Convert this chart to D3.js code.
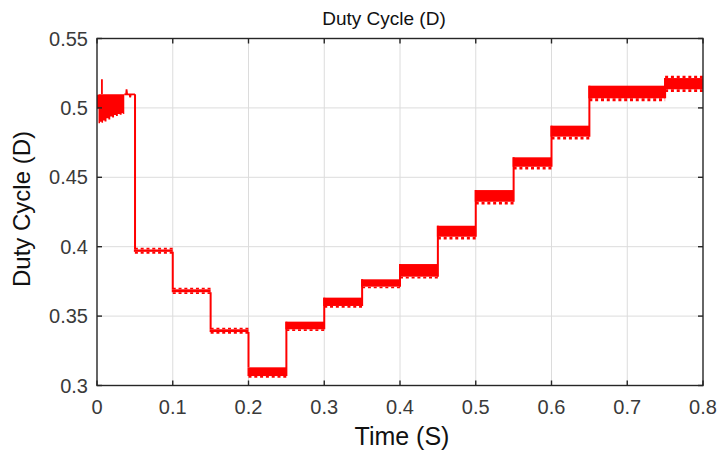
<!DOCTYPE html>
<html>
<head>
<meta charset="utf-8">
<script src="https://cdn.jsdelivr.net/npm/d3@7/dist/d3.min.js"></script>
<style>
  html, body { margin: 0; padding: 0; background: #fff; }
  svg { display: block; font-family: "Liberation Sans", Arial, sans-serif; }
</style>
</head>
<body>
<svg id="chart" width="719" height="450"></svg>
<script>
// Duty cycle of the converter during a staircase of operating points.

// Step segments after the start-up transient (time in s, duty cycle D)
const segStart = [0.05, 0.10, 0.15, 0.20, 0.25, 0.30, 0.35, 0.40, 0.45, 0.50, 0.55, 0.60, 0.65, 0.75];
const segEnd   = [0.10, 0.15, 0.20, 0.25, 0.30, 0.35, 0.40, 0.45, 0.50, 0.55, 0.60, 0.65, 0.75, 0.80];
const segHigh  = [0.3980, 0.3693, 0.3405, 0.3131, 0.3460, 0.3633, 0.3765, 0.3875, 0.4151, 0.4408, 0.4644, 0.4872, 0.5160, 0.5215];
const segLow   = [0.3963, 0.3672, 0.3385, 0.3068, 0.3405, 0.3573, 0.3712, 0.3784, 0.4072, 0.4324, 0.4576, 0.4793, 0.5069, 0.5134];
const segDip   = [0.3950, 0.3659, 0.3372, 0.3055, 0.3393, 0.3561, 0.3700, 0.3770, 0.4052, 0.4304, 0.4557, 0.4773, 0.5048, 0.5114];
const segPeak  = [0.3993, 0.3705, 0.3416, 0.3131, 0.3460, 0.3633, 0.3765, 0.3875, 0.4151, 0.4408, 0.4644, 0.4872, 0.5160, 0.5232];

// Start-up transient: ripple envelope over the first ~36 ms
const initT  = [0.0000, 0.0020, 0.0040, 0.0060, 0.0080, 0.0100, 0.0125, 0.0150, 0.0175, 0.0200, 0.0225, 0.0250, 0.0275, 0.0300, 0.0325, 0.0345, 0.0360];
const initHi = [0.5095, 0.5098, 0.5098, 0.5098, 0.5098, 0.5098, 0.5098, 0.5098, 0.5098, 0.5098, 0.5098, 0.5098, 0.5098, 0.5098, 0.5098, 0.5098, 0.5098];
const initLo = [0.4995, 0.4889, 0.4900, 0.4893, 0.4910, 0.4902, 0.4925, 0.4917, 0.4938, 0.4930, 0.4948, 0.4941, 0.4956, 0.4950, 0.4962, 0.4956, 0.4962];

// Settling tail and the first overshoot spike
const tailT = [0.0360, 0.0385, 0.0390, 0.0398, 0.0405, 0.0430, 0.0438, 0.0446, 0.0502];
const tailD = [0.5098, 0.5098, 0.5134, 0.5098, 0.5098, 0.5098, 0.5076, 0.5098, 0.5098];
const spikeT = [0.0065, 0.0065];
const spikeD = [0.5098, 0.5206];

// Axis ticks
const xTicks = [0, 0.1, 0.2, 0.3, 0.4, 0.5, 0.6, 0.7, 0.8];
const yTicks = [0.3, 0.35, 0.4, 0.45, 0.5, 0.55];
const xTickLabels = ["0", "0.1", "0.2", "0.3", "0.4", "0.5", "0.6", "0.7", "0.8"];
const yTickLabels = ["0.3", "0.35", "0.4", "0.45", "0.5", "0.55"];

const RED = "#ff0000";
const AXIS = "#262626";

const svg = d3.select("#chart");
const pLeft = 97, pRight = 703, pTop = 38.5, pBottom = 385.5;

const x = d3.scaleLinear().domain([0, 0.8]).range([pLeft, pRight]);
const y = d3.scaleLinear().domain([0.3, 0.55]).range([pBottom, pTop]);

// grid
const grid = svg.append("g");
grid.selectAll("line.gx").data(xTicks.slice(1, -1)).join("line")
  .attr("x1", d => x(d)).attr("x2", d => x(d))
  .attr("y1", pTop).attr("y2", pBottom)
  .attr("stroke", "#dcdcdc").attr("stroke-width", 1);
grid.selectAll("line.gy").data(yTicks.slice(1, -1)).join("line")
  .attr("x1", pLeft).attr("x2", pRight)
  .attr("y1", d => y(d)).attr("y2", d => y(d))
  .attr("stroke", "#dcdcdc").attr("stroke-width", 1);

// plot content clipped to the axes box
svg.append("clipPath").attr("id", "plotClip")
  .append("rect").attr("x", pLeft).attr("y", pTop - 1)
  .attr("width", pRight - pLeft).attr("height", pBottom - pTop + 1);
const plot = svg.append("g").attr("clip-path", "url(#plotClip)");

// start-up transient band
const initIdx = d3.range(initT.length);
plot.append("path")
  .datum(initIdx)
  .attr("d", d3.area()
    .x(i => x(initT[i]))
    .y0(i => y(initLo[i]))
    .y1(i => y(initHi[i]))
    .curve(d3.curveStepAfter))
  .attr("fill", RED);

const line = d3.line().x(d => x(d[0])).y(d => y(d[1]));

plot.append("path")
  .datum(tailT.map((t, i) => [t, tailD[i]]))
  .attr("d", line)
  .attr("fill", "none").attr("stroke", RED).attr("stroke-width", 1.8);

plot.append("path")
  .datum(spikeT.map((t, i) => [t, spikeD[i]]))
  .attr("d", line)
  .attr("fill", "none").attr("stroke", RED).attr("stroke-width", 1.8);

// step transitions (vertical edges between consecutive levels)
const edgeData = [[tailT[tailT.length - 1], tailD[tailD.length - 1], segHigh[0]]];
for (let i = 1; i < segStart.length; i++) {
  edgeData.push([segStart[i], segLow[i - 1], segHigh[i]]);
}
plot.selectAll("line.edge").data(edgeData).join("line")
  .attr("x1", d => x(d[0])).attr("x2", d => x(d[0]))
  .attr("y1", d => y(d[1])).attr("y2", d => y(d[2]))
  .attr("stroke", RED).attr("stroke-width", 2);

// ripple bands of each level
const segIdx = d3.range(segStart.length);
plot.selectAll("rect.band").data(segIdx).join("rect")
  .attr("x", i => x(segStart[i]) - 1)
  .attr("width", i => x(segEnd[i]) - x(segStart[i]) + 1)
  .attr("y", i => y(segHigh[i]))
  .attr("height", i => Math.max(2, y(segLow[i]) - y(segHigh[i])))
  .attr("fill", RED);

// downward ripple teeth along the lower edge
plot.selectAll("line.dip").data(segIdx).join("line")
  .attr("x1", i => x(segStart[i]))
  .attr("x2", i => x(segEnd[i]))
  .attr("y1", i => (y(segLow[i]) + y(segDip[i])) / 2)
  .attr("y2", i => (y(segLow[i]) + y(segDip[i])) / 2)
  .attr("stroke", RED)
  .attr("stroke-width", i => y(segDip[i]) - y(segLow[i]))
  .attr("stroke-dasharray", "3,2.8");

// upward ripple teeth along the upper edge
plot.selectAll("line.peak").data(segIdx.filter(i => segPeak[i] > segHigh[i])).join("line")
  .attr("x1", i => x(segStart[i]))
  .attr("x2", i => x(segEnd[i]))
  .attr("y1", i => (y(segHigh[i]) + y(segPeak[i])) / 2)
  .attr("y2", i => (y(segHigh[i]) + y(segPeak[i])) / 2)
  .attr("stroke", RED)
  .attr("stroke-width", i => y(segHigh[i]) - y(segPeak[i]))
  .attr("stroke-dasharray", "3,2.8");

// axes box
const box = svg.append("g");
box.append("rect")
  .attr("x", pLeft).attr("y", pTop)
  .attr("width", pRight - pLeft).attr("height", pBottom - pTop)
  .attr("fill", "none").attr("stroke", AXIS).attr("stroke-width", 1.4);

const tickLen = 5;
box.selectAll("line.xtb").data(xTicks).join("line")
  .attr("x1", d => x(d)).attr("x2", d => x(d))
  .attr("y1", pBottom).attr("y2", pBottom - tickLen)
  .attr("stroke", AXIS).attr("stroke-width", 1.4);
box.selectAll("line.xtt").data(xTicks).join("line")
  .attr("x1", d => x(d)).attr("x2", d => x(d))
  .attr("y1", pTop).attr("y2", pTop + tickLen)
  .attr("stroke", AXIS).attr("stroke-width", 1.4);
box.selectAll("line.ytl").data(yTicks).join("line")
  .attr("x1", pLeft).attr("x2", pLeft + tickLen)
  .attr("y1", d => y(d)).attr("y2", d => y(d))
  .attr("stroke", AXIS).attr("stroke-width", 1.4);
box.selectAll("line.ytr").data(yTicks).join("line")
  .attr("x1", pRight).attr("x2", pRight - tickLen)
  .attr("y1", d => y(d)).attr("y2", d => y(d))
  .attr("stroke", AXIS).attr("stroke-width", 1.4);

// tick labels
svg.selectAll("text.xl").data(xTicks).join("text")
  .attr("x", d => x(d)).attr("y", 414)
  .attr("text-anchor", "middle")
  .attr("font-size", 20).attr("fill", "#3a3a3a")
  .text((d, i) => xTickLabels[i]);
svg.selectAll("text.yl").data(yTicks).join("text")
  .attr("x", 88).attr("y", d => y(d) + 7)
  .attr("text-anchor", "end")
  .attr("font-size", 20).attr("fill", "#3a3a3a")
  .text((d, i) => yTickLabels[i]);

// title and axis labels
svg.append("text")
  .attr("x", 384).attr("y", 25)
  .attr("text-anchor", "middle")
  .attr("font-size", 19).attr("fill", "#111")
  .text("Duty Cycle (D)");
svg.append("text")
  .attr("x", 402).attr("y", 445)
  .attr("text-anchor", "middle")
  .attr("font-size", 25).attr("fill", "#111")
  .text("Time (S)");
svg.append("text")
  .attr("transform", "translate(30,209) rotate(-90)")
  .attr("text-anchor", "middle")
  .attr("font-size", 24).attr("fill", "#111")
  .text("Duty Cycle (D)");
</script>
</body>
</html>
